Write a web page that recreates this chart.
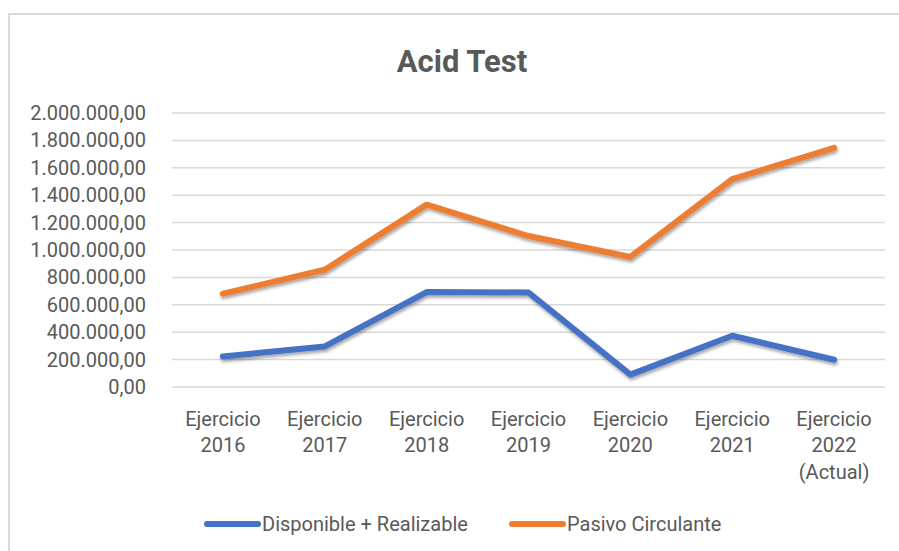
<!DOCTYPE html>
<html>
<head>
<meta charset="utf-8">
<script src="https://cdn.jsdelivr.net/npm/d3@7"></script>
<style>
  body { margin: 0; background: #fff; }
  svg text { font-family: Roboto, "Noto Sans", sans-serif; fill: #595959; }
</style>
</head>
<body>
<div id="chart"></div>
<script>
const categories = [
  ["Ejercicio", "2016"],
  ["Ejercicio", "2017"],
  ["Ejercicio", "2018"],
  ["Ejercicio", "2019"],
  ["Ejercicio", "2020"],
  ["Ejercicio", "2021"],
  ["Ejercicio", "2022", "(Actual)"],
];
const disponible = [223000, 296000, 693000, 690000, 90000, 374000, 199000];
const pasivo = [681000, 856000, 1331000, 1102000, 949000, 1518000, 1745000];
const yTicks = [0, 200000, 400000, 600000, 800000, 1000000, 1200000, 1400000, 1600000, 1800000, 2000000];
const seriesNames = ["Disponible + Realizable", "Pasivo Circulante"];
const colors = ["#4472C4", "#ED7D31"];

const width = 899;
const height = 551;
const margin = { top: 113, right: 14, bottom: 164, left: 172 };

const svg = d3
  .select("#chart")
  .append("svg")
  .attr("width", width)
  .attr("height", height);

const defs = svg.append("defs");
defs
  .append("filter")
  .attr("id", "shadow")
  .attr("x", "-10%")
  .attr("y", "-10%")
  .attr("width", "120%")
  .attr("height", "140%")
  .append("feDropShadow")
  .attr("dx", 1)
  .attr("dy", 2.5)
  .attr("stdDeviation", 1.6)
  .attr("flood-color", "#000")
  .attr("flood-opacity", 0.35);

// chart area border (only top + left visible in the crop)
svg
  .append("path")
  .attr("d", `M9,${height} V14 H${width}`)
  .attr("fill", "none")
  .attr("stroke", "#d9d9d9")
  .attr("stroke-width", 2);

svg
  .append("text")
  .attr("x", 462)
  .attr("y", 72)
  .attr("text-anchor", "middle")
  .style("font-size", "31px")
  .style("font-weight", "bold")
  .text("Acid Test");

const xScale = d3
  .scaleBand()
  .domain(d3.range(categories.length))
  .range([margin.left, width - margin.right]);

const yScale = d3
  .scaleLinear()
  .domain([0, 2000000])
  .range([height - margin.bottom, margin.top]);

const fmt = (v) =>
  d3.format(",.2f")(v).replace(/,/g, "X").replace(/\./g, ",").replace(/X/g, ".");

// grid lines
svg
  .append("g")
  .selectAll("line")
  .data(yTicks)
  .enter()
  .append("line")
  .attr("x1", margin.left)
  .attr("x2", width - margin.right)
  .attr("y1", (d) => yScale(d))
  .attr("y2", (d) => yScale(d))
  .attr("stroke", "#d9d9d9")
  .attr("stroke-width", 1.5);

const yAxis = d3
  .axisLeft(yScale)
  .tickValues(yTicks)
  .tickFormat(fmt)
  .tickSize(0)
  .tickPadding(0);

svg
  .append("g")
  .attr("transform", `translate(146,0)`)
  .call(yAxis)
  .call((g) => g.select(".domain").remove())
  .selectAll("text")
  .style("font-size", "20px")
  .style("font-family", "Roboto, sans-serif")
  .attr("fill", "#595959");

// x labels
const xLabels = svg
  .append("g")
  .selectAll("text")
  .data(categories)
  .enter()
  .append("text")
  .attr("text-anchor", "middle")
  .style("font-size", "20px");

xLabels
  .selectAll("tspan")
  .data((d, i) => d.map((t) => ({ t, i })))
  .enter()
  .append("tspan")
  .attr("x", (d) => xScale(d.i) + xScale.bandwidth() / 2)
  .attr("y", (d, j) => 425.5 + j * 26.5)
  .text((d) => d.t);

// lines
const line = d3
  .line()
  .x((d, i) => xScale(i) + xScale.bandwidth() / 2)
  .y((d) => yScale(d));

[disponible, pasivo].forEach((series, k) => {
  svg
    .append("path")
    .datum(series)
    .attr("d", line)
    .attr("fill", "none")
    .attr("stroke", colors[k])
    .attr("stroke-width", 6)
    .attr("stroke-linecap", "round")
    .attr("stroke-linejoin", "round")
    .attr("filter", "url(#shadow)");
});

// legend
const legendX = [207, 512];
const legend = svg
  .append("g")
  .selectAll("g")
  .data(seriesNames)
  .enter()
  .append("g")
  .attr("transform", (d, i) => `translate(${legendX[i]},524)`);

legend
  .append("line")
  .attr("x1", 0)
  .attr("x2", 51)
  .attr("stroke", (d, i) => colors[i])
  .attr("stroke-width", 6)
  .attr("stroke-linecap", "round");

legend
  .append("text")
  .attr("x", 55)
  .attr("y", 7)
  .style("font-size", "20px")
  .text((d) => d);
</script>
</body>
</html>
